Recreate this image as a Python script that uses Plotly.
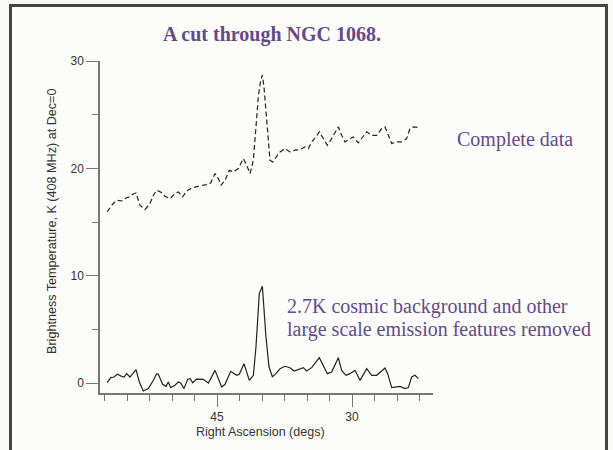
import plotly.graph_objects as go

# ---- data ----
ra_complete = [57.19, 56.70, 56.15, 55.59, 55.11, 54.74, 54.37, 54.00, 53.56, 53.00,
               52.44, 52.07, 51.70, 51.26, 50.78, 50.22, 49.67, 49.30, 48.81, 48.37,
               47.81, 47.26, 46.70, 46.22, 45.70, 45.22, 44.85, 44.56, 44.11, 43.63,
               43.19, 42.63, 42.07, 41.70, 41.33, 40.96, 40.67, 40.41, 40.15, 39.96,
               39.78, 39.56, 39.30, 39.11, 38.81, 38.44, 38.00, 37.44, 36.89, 36.33,
               35.78, 35.22, 34.85, 34.48, 34.00, 33.63, 33.19, 32.74, 32.37, 31.89,
               31.52, 31.15, 30.78, 30.22, 29.85, 29.30, 28.81, 28.37, 27.81, 27.26,
               26.70, 26.33, 25.96, 25.59, 25.04, 24.48, 23.93, 23.56, 23.20, 22.65]
temp_complete = [15.94, 16.56, 17.03, 16.96, 17.24, 17.34, 17.59, 17.71, 16.56, 16.16,
                 16.72, 17.49, 17.96, 17.80, 17.40, 17.18, 17.65, 17.80, 17.34, 17.90,
                 18.18, 18.27, 18.42, 18.49, 18.64, 19.51, 19.05, 18.42, 18.89, 19.82,
                 19.67, 19.98, 20.91, 20.29, 19.51, 20.75, 23.86, 26.66, 28.21, 28.68,
                 27.59, 25.41, 22.93, 20.75, 20.60, 21.07, 21.53, 21.84, 21.53, 21.69,
                 21.75, 22.00, 21.84, 22.46, 22.93, 23.40, 22.77, 22.15, 22.62, 23.40,
                 23.86, 23.08, 22.46, 22.77, 22.93, 22.37, 22.87, 23.40, 23.08, 23.08,
                 23.71, 23.86, 23.08, 22.31, 22.46, 22.46, 22.77, 23.71, 23.86, 23.80]

ra_removed = [57.20, 56.81, 56.44, 56.07, 55.59, 55.33, 55.04, 54.67, 54.00, 53.63,
              53.19, 52.63, 52.07, 51.70, 51.52, 51.04, 50.67, 50.41, 50.15, 49.67,
              49.30, 49.04, 48.67, 48.26, 48.00, 47.70, 47.26, 46.52, 45.96, 45.22,
              44.48, 44.11, 43.48, 42.81, 42.52, 42.00, 41.41, 40.96, 40.67, 40.30,
              39.96, 39.56, 39.22, 38.85, 38.44, 38.00, 37.44, 36.89, 36.44, 35.96,
              35.41, 35.04, 34.48, 33.63, 33.19, 32.74, 32.26, 31.52, 31.15, 30.67,
              30.22, 29.67, 29.11, 28.37, 27.81, 27.26, 26.33, 26.04, 25.59, 25.11,
              24.67, 24.11, 23.74, 23.37, 23.00, 22.63]
temp_removed = [0.04, 0.50, 0.56, 0.81, 0.62, 0.56, 0.87, 0.56, 1.25, 0.10,
                -0.74, -0.52, 0.25, 0.87, 0.81, -0.12, -0.31, 0.10, -0.43, -0.21,
                0.10, 0.00, -0.52, 0.34, 0.43, 0.03, 0.37, 0.34, 0.00, 1.18,
                -0.37, -0.12, 1.09, 0.72, 0.81, 1.80, 0.25, 0.72, 3.36, 8.33,
                9.01, 4.29, 1.49, 0.59, 0.87, 1.34, 1.56, 1.43, 1.12, 1.25,
                1.43, 1.12, 1.43, 2.36, 1.56, 0.87, 1.03, 2.36, 1.18, 0.72,
                0.87, 1.18, 0.25, 1.34, 0.72, 0.72, 1.40, 0.87, -0.43, -0.37,
                -0.31, -0.52, -0.43, 0.56, 0.72, 0.41]

title_text = "A cut through NGC 1068."
label_complete = "Complete data"
label_removed_1 = "2.7K cosmic background and other"
label_removed_2 = "large scale emission features removed"
y_title = "Brightness Temperature, K (408 MHz) at Dec=0"
x_title = "Right Ascension (degs)"

# ---- layout geometry (page body margin removed by post_script) ----
W, H = 613, 450
ML, MT = 100, 61
MR = W - 433
MB = H - 393
PW, PH = W - ML - MR, H - MT - MB

def px(x):
    return (x - ML) / PW

def py(y):
    return (H - MB - y) / PH

purple = "#654a87"
axis_col = "#777777"
text_col = "#333333"
serif = "Liberation Serif, Times New Roman, serif"
sans = "Liberation Sans, Arial, sans-serif"

fig = go.Figure()
fig.add_trace(go.Scatter(x=ra_complete, y=temp_complete, mode="lines",
                         line=dict(color="#222222", width=1.2, dash="5px,3px"),
                         showlegend=False, hoverinfo="skip"))
fig.add_trace(go.Scatter(x=ra_removed, y=temp_removed, mode="lines",
                         line=dict(color="#222222", width=1.2),
                         showlegend=False, hoverinfo="skip"))

axis_common = dict(showgrid=False, zeroline=False, showline=True, linecolor=axis_col,
                   linewidth=1.5, ticks="outside", tickcolor=axis_col, tickwidth=1.2,
                   ticklen=12, tickfont=dict(family=sans, size=12, color=text_col))

fig.update_xaxes(range=[58, 21], dtick=15, tick0=0,
                 minor=dict(dtick=2.5, tick0=0, ticks="outside", ticklen=6,
                            tickcolor=axis_col, tickwidth=1.2),
                 **axis_common)
fig.update_yaxes(range=[-0.93, 30], dtick=10, tick0=0,
                 minor=dict(dtick=5, tick0=0, ticks="outside", ticklen=6,
                            tickcolor=axis_col, tickwidth=1.2),
                 **axis_common)

fig.add_shape(type="rect", xref="paper", yref="paper", layer="below",
              x0=px(10.5), x1=px(606.5), y0=py(5.5), y1=py(470),
              line=dict(color="#454545", width=3), fillcolor="#fcfcfa")

annots = [
    dict(text="<b>" + title_text + "</b>", x=px(272), y=py(34), xanchor="center", yanchor="middle",
         font=dict(family=serif, size=20, color=purple)),
    dict(text=label_complete, x=px(455), y=py(139), xanchor="left", yanchor="middle",
         font=dict(family=serif, size=20, color=purple)),
    dict(text=label_removed_1, x=px(285), y=py(306), xanchor="left", yanchor="middle",
         font=dict(family=serif, size=20, color=purple)),
    dict(text=label_removed_2, x=px(285), y=py(329), xanchor="left", yanchor="middle",
         font=dict(family=serif, size=20, color=purple)),
    dict(text=y_title, x=px(52), y=py(222), xanchor="center", yanchor="middle", textangle=-90,
         font=dict(family=sans, size=12.6, color=text_col)),
    dict(text=x_title, x=px(260.5), y=py(432), xanchor="center", yanchor="middle",
         font=dict(family=sans, size=12.5, color=text_col)),
]
for a in annots:
    fig.add_annotation(xref="paper", yref="paper", showarrow=False, **a)

fig.update_layout(width=W, height=H, margin=dict(l=ML, r=MR, t=MT, b=MB),
                  paper_bgcolor="#f8f8f6", plot_bgcolor="rgba(0,0,0,0)")

fig.write_html("out.html", config={"displayModeBar": False},
               post_script="document.body.style.margin='0px';document.body.style.overflow='hidden';")
